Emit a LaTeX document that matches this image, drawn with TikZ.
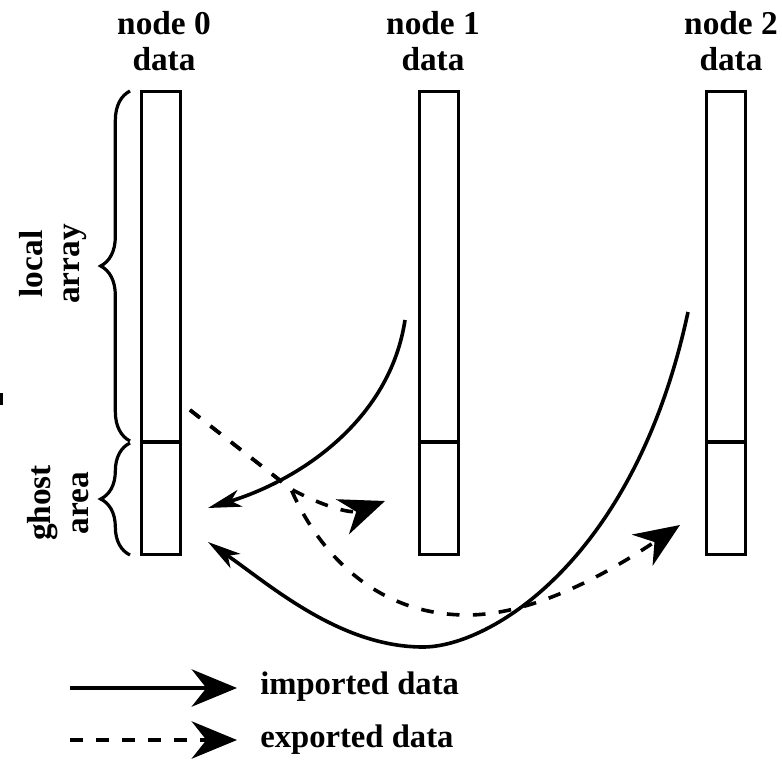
\documentclass[tikz,border=0pt]{standalone}
\usepackage{fontspec}
\setmainfont{Liberation Serif}
\usetikzlibrary{arrows.meta,decorations.pathreplacing,positioning}
\tikzset{procbox/.style={rectangle, draw, line width=2.7pt, minimum width=29pt, minimum height=347pt, inner sep=0pt}}
\tikzset{headline/.style={align=center, inner sep=0pt, font=\fontsize{25}{27}\selectfont\bfseries}}
\tikzset{sidenote/.style={align=center, inner sep=0pt, rotate=90, font=\fontsize{25}{28}\selectfont\bfseries}}
\tikzset{keytext/.style={anchor=base west, inner sep=0pt, font=\fontsize{24.5}{27}\selectfont\bfseries}}
\tikzset{bigtip/.style={-{Stealth[length=34pt, width=28pt, inset=11pt]}}}
\tikzset{thintip/.style={-{Stealth[length=25pt, width=13pt, inset=7pt]}}}
\tikzset{imported/.style={line width=2.7pt}}
\tikzset{exported/.style={line width=2.7pt, dash pattern=on 9.5pt off 10pt}}
\tikzset{bracket/.style={line width=2.4pt, decorate, decoration={brace, amplitude=22pt}}}

\begin{document}
\begin{tikzpicture}[x=0.75pt, y=-0.75pt]
                    \useasboundingbox (0,0) rectangle (782,760);
                    % the three data columns
                    \node[procbox] (p0) at (161,323) {};
                    \node[procbox] (p1) at (439,323) {};
                    \node[procbox] (p2) at (726,323) {};
                    \coordinate (cut) at (0,442);
                    \draw[line width=2.7pt] (p0.west |- cut)--(p0.east |- cut) (p1.west |- cut)--(p1.east |- cut) (p2.west |- cut)--(p2.east |- cut);
                    \node[headline] (h0) at (164,41) {node 0\\data};
                    \node[headline] (h1) at (433,41) {node 1\\data};
                    \node[headline] (h2) at (731,41) {node 2\\data};
                    % braces on the left of node 0
                    \draw[bracket] (130,441)--(130,91);
                    \draw[bracket] (130,555)--(130,443);
                    \node[sidenote] (loc) at (53,264) {local\\array};
                    \node[sidenote] (gho) at (58,503) {ghost\\area};
                    \draw[line width=2.4pt] (1.5,393)--(1.5,405);
                    % imported data
                    \coordinate (src1) at (405,320);
                    \coordinate (src2) at (688,312);
                    \coordinate (dst0a) at (208,508);
                    \coordinate (dst0b) at (208,542);
                    \draw[imported, thintip] (src1) .. controls (390,420) and (300,480) .. (dst0a);
                    \draw[imported, thintip] (src2) .. controls (635,560) and (490,647) .. (423,647) .. controls (340,647) and (270,585) .. (dst0b);
                    % exported data
                    \coordinate (src0) at (190,410);
                    \coordinate (fork) at (291,489);
                    \coordinate (dst1) at (385,501);
                    \coordinate (dst2) at (680,525);
                    \draw[exported, bigtip] (src0)--(fork) .. controls (320,505) and (350,514) .. (dst1);
                    \draw[exported, bigtip] (src0)--(fork) .. controls (315,545) and (370,615) .. (467,615) .. controls (540,615) and (620,565) .. (dst2);
                    % key
                    \coordinate (ka) at (70,688);
                    \coordinate (kb) at (237,688);
                    \coordinate (kc) at (70,740);
                    \coordinate (kd) at (237,740);
                    \draw[imported, bigtip] (ka)--(kb);
                    \draw[exported, bigtip] (kc)--(kd);
                    \node[keytext] (kimp) at (260,694) {imported data};
                    \node[keytext] (kexp) at (260,747) {exported data};
                \end{tikzpicture}
\end{document}
